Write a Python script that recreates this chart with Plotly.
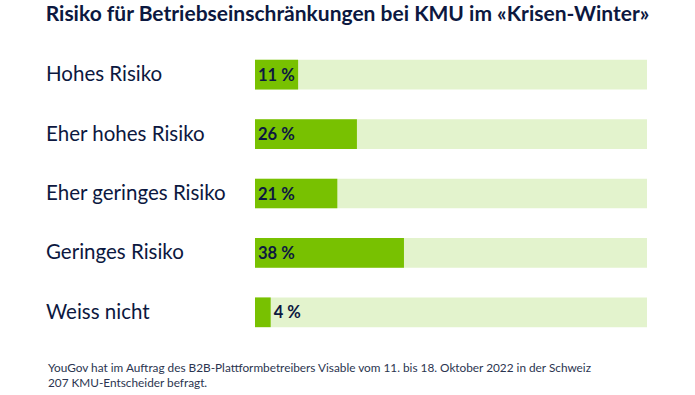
import plotly.graph_objects as go

categories = ["Hohes Risiko", "Eher hohes Risiko", "Eher geringes Risiko", "Geringes Risiko", "Weiss nicht"]
values = [11, 26, 21, 38, 4]
total = [100, 100, 100, 100, 100]
value_labels = ["11 %", "26 %", "21 %", "38 %", "4 %"]

title = "Risiko für Betriebseinschränkungen bei KMU im «Krisen-Winter»"
note = ("YouGov hat im Auftrag des B2B-Plattformbetreibers Visable vom 11. bis 18. Oktober 2022 in der Schweiz<br>"
        "207 KMU-Entscheider befragt.")

NAVY = "#0c1840"
FONT = "Lato"

W, H = 695, 395
L, R, T, B = 255, 48, 44.5, 52.5
PW, PH = W - L - R, H - T - B

fig = go.Figure()
fig.add_trace(go.Bar(
    y=categories, x=total, orientation="h", marker=dict(color="#e3f3cd", line=dict(width=0)),
    width=0.5, hoverinfo="skip", showlegend=False,
))
positions = ["inside" if v >= 8 else "outside" for v in values]
tf = dict(family=FONT, size=16.5, color=NAVY, weight="bold")
fig.add_trace(go.Bar(
    y=categories, x=values, orientation="h", marker=dict(color="#78c101", line=dict(width=0)),
    width=0.5, text=value_labels, textposition=positions, insidetextanchor="start",
    textfont=tf, insidetextfont=tf, outsidetextfont=tf,
    constraintext="none", cliponaxis=False, showlegend=False,
))

for c in categories:
    fig.add_annotation(x=(44 - L) / PW, xref="paper", y=c, yref="y", yshift=1.5, text=c,
                       showarrow=False, xanchor="left", yanchor="middle",
                       font=dict(family=FONT, size=20.5, color=NAVY))

fig.add_annotation(x=(46 - L) / PW, xref="paper", y=-(359 - (T + PH)) / PH, yref="paper",
                   text=note, showarrow=False,
                   xanchor="left", yanchor="top", align="left",
                   font=dict(family=FONT, size=11.8, color="#2b3550"))

fig.update_layout(
    width=W, height=H,
    margin=dict(l=L, r=R, t=T, b=B),
    barmode="overlay",
    paper_bgcolor="white", plot_bgcolor="white",
    title=dict(text=title, x=0.5, xanchor="center", y=1 - 14 / H, yanchor="middle",
               font=dict(family=FONT, size=21, color=NAVY, weight="bold")),
    xaxis=dict(range=[0, 100], visible=False, fixedrange=True),
    yaxis=dict(autorange="reversed", visible=False, fixedrange=True),
)

fig.write_html("out.html", config={"displayModeBar": False},
               post_script="document.body.style.margin='0';")
